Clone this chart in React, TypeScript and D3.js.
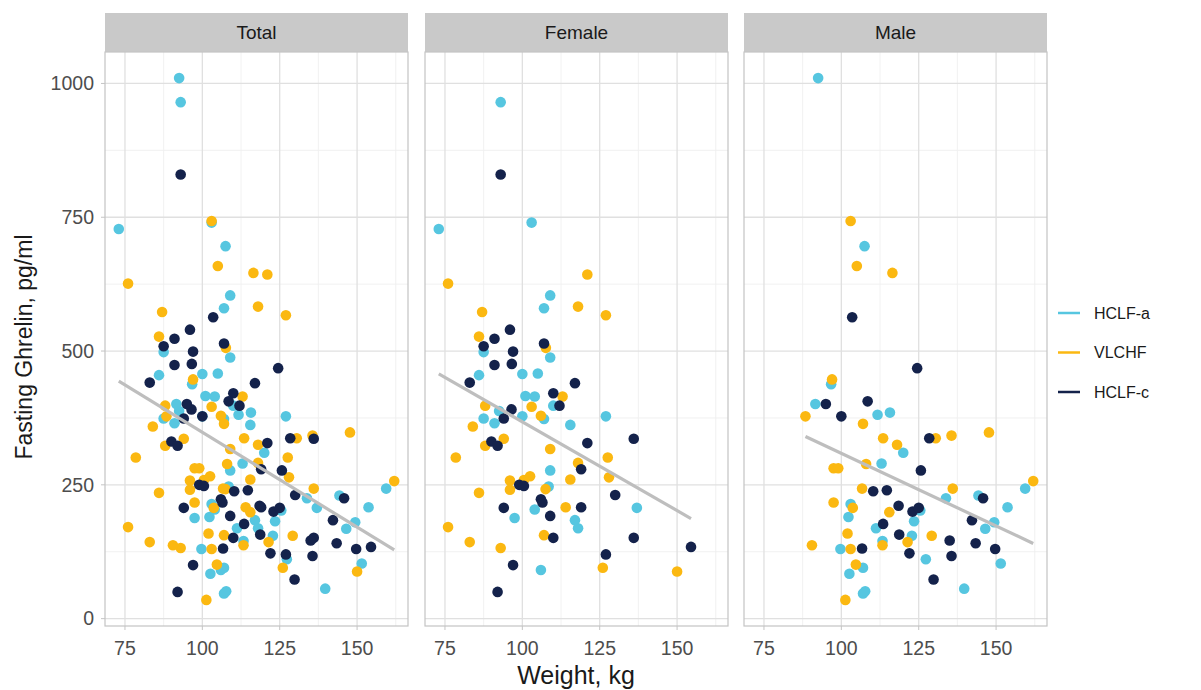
import React from 'react';
import * as d3 from 'd3';

type Pt = [number, number];

const groups = ['HCLF-a', 'VLCHF', 'HCLF-c'];
const groupColors = ['#56C6E0', '#FBB811', '#14224B'];
const facets = ['Total', 'Female', 'Male'];
const xTicks = [75, 100, 125, 150];
const xMinor = [87.5, 112.5, 137.5, 162.5];
const yTicks = [0, 250, 500, 750, 1000];
const yMinor = [125, 375, 625, 875];

// [weight kg, fasting ghrelin pg/ml]
const femaleHCLFa: Pt[] = [
  [93, 965], [73, 728], [103, 740], [109, 604], [107, 580], [87.5, 498], [109, 488], [100, 457],
  [105, 458], [86, 455], [101, 416], [104, 415], [110, 398], [92.5, 388], [87.5, 374], [100, 378],
  [91, 365], [107, 373], [127, 378], [115.5, 362], [109, 277], [108.5, 247], [104, 204], [137, 207],
  [97.5, 188], [117, 184], [118, 169], [106, 91],
];
const femaleVLCHF: Pt[] = [
  [76, 626], [121, 643], [118, 583], [127, 567], [87, 573], [86, 527], [107.6, 506], [113, 415],
  [88, 398], [103, 396], [106, 379], [84, 359], [94, 336], [88, 323], [78.5, 301], [109, 317],
  [127.6, 301], [118, 291], [128, 264], [102.5, 266], [100.5, 259], [96, 258], [96, 241], [115.5, 260],
  [107.5, 242], [86, 235], [114, 208], [76, 171], [107, 156], [83, 143], [93, 132], [126, 95], [150, 88],
];
const femaleHCLFc: Pt[] = [
  [93, 830], [96, 540], [91, 523], [87.5, 509], [97, 499], [107, 514], [91, 474], [96.6, 476],
  [83, 441], [117, 440], [110, 421], [112, 398], [96.5, 391], [94, 374], [121, 328], [136, 336],
  [90, 331], [92, 323], [119, 279], [99, 250], [100.5, 248], [130, 231], [106, 223], [106.5, 217],
  [119, 208], [94, 207], [109, 192], [110, 151], [136, 151], [154.5, 134], [127, 120], [97, 100], [92, 50],
];
const maleHCLFa: Pt[] = [
  [92.5, 1010], [107.5, 696], [96.7, 438], [91.6, 401], [111.7, 381], [115.7, 385], [120, 310],
  [113, 290], [159.4, 243], [133.8, 225], [144.3, 230], [103, 214], [125.5, 202], [153.7, 208],
  [102.3, 190], [123.5, 182], [149.4, 180], [111.2, 169], [146.5, 168], [122.8, 155], [113.3, 145],
  [99.7, 130], [127.3, 111], [151.5, 103], [107, 95], [102.6, 84], [139.7, 56], [107, 47], [107.7, 51],
];
const maleVLCHF: Pt[] = [
  [103, 743], [105, 659], [116.5, 646], [97, 447], [88.4, 378], [107, 364], [113.5, 337], [118, 325],
  [130.5, 337], [135.6, 342], [147.7, 348], [108, 289], [97.5, 281], [99, 281], [162, 257],
  [106.7, 243], [136, 243], [97.5, 217], [103.7, 207], [115.5, 199], [102, 159], [129.2, 155],
  [113.3, 137], [121.4, 143], [90.5, 137], [103, 130], [104.7, 101], [101.3, 35],
];
const maleHCLFc: Pt[] = [
  [103.5, 563], [124.5, 468], [95, 401], [108.5, 406], [100, 378], [128.4, 337], [125.7, 277],
  [110.3, 238], [114.7, 240], [145.8, 225], [118.5, 211], [123, 200], [125, 207], [113.5, 177],
  [142.2, 184], [118.7, 157], [135, 146], [143.4, 141], [106.7, 131], [122, 122], [149.7, 130],
  [135.6, 117], [129.8, 73],
];

const female = [femaleHCLFa, femaleVLCHF, femaleHCLFc];
const male = [maleHCLFa, maleVLCHF, maleHCLFc];
const total = [0, 1, 2].map((i) => [...female[i], ...male[i]]);
const facetData = [total, female, male];

const FONT = '"Liberation Sans", Arial, Helvetica, sans-serif';

const panelLefts = [105, 425, 744];
const panelW = 303;
const panelTop = 52;
const panelBottom = 626;
const stripTop = 13;

function fit(pts: Pt[]) {
  const mx = d3.mean(pts, (d) => d[0]) as number;
  const my = d3.mean(pts, (d) => d[1]) as number;
  let sxy = 0;
  let sxx = 0;
  pts.forEach(([x, y]) => {
    sxy += (x - mx) * (y - my);
    sxx += (x - mx) * (x - mx);
  });
  const b = sxy / sxx;
  const a = my - b * mx;
  const [x0, x1] = d3.extent(pts, (d) => d[0]) as [number, number];
  return { x0, x1, y0: a + b * x0, y1: a + b * x1 };
}

export default function App() {
  const all = facetData[0].flat();
  const [xmin, xmax] = d3.extent(all, (d) => d[0]) as [number, number];
  const [ymin, ymax] = d3.extent(all, (d) => d[1]) as [number, number];
  const xe = (xmax - xmin) * 0.05;
  const ye = (ymax - ymin) * 0.05;
  const y = d3.scaleLinear().domain([ymin - ye, ymax + ye]).range([panelBottom, panelTop]);

  return (
    <svg
      width={1201}
      height={690}
      style={{ position: 'absolute', left: 0, top: 0, background: '#fff' }}
      fontFamily={FONT}
    >
      <rect width={1201} height={690} fill="#fff" />
      {facets.map((name, fi) => {
        const left = panelLefts[fi];
        const x = d3.scaleLinear().domain([xmin - xe, xmax + xe]).range([left, left + panelW]);
        const sets = facetData[fi];
        const line = fit(sets.flat());
        return (
          <g key={name}>
            <rect x={left} y={stripTop} width={panelW} height={panelTop - stripTop} fill="#C9C9C9" />
            <text
              x={left + panelW / 2}
              y={(stripTop + panelTop) / 2}
              dy="0.35em"
              textAnchor="middle"
              fontSize={19}
              fill="#1A1A1A"
            >
              {name}
            </text>
            <rect x={left} y={panelTop} width={panelW} height={panelBottom - panelTop} fill="#fff" />
            {yMinor.map((t) => (
              <line key={'ym' + t} x1={left} x2={left + panelW} y1={y(t)} y2={y(t)} stroke="#EFEFEF" strokeWidth={0.9} />
            ))}
            {xMinor.map((t) => (
              <line key={'xm' + t} x1={x(t)} x2={x(t)} y1={panelTop} y2={panelBottom} stroke="#EFEFEF" strokeWidth={0.9} />
            ))}
            {yTicks.map((t) => (
              <line key={'yM' + t} x1={left} x2={left + panelW} y1={y(t)} y2={y(t)} stroke="#E0E0E0" strokeWidth={1.3} />
            ))}
            {xTicks.map((t) => (
              <line key={'xM' + t} x1={x(t)} x2={x(t)} y1={panelTop} y2={panelBottom} stroke="#E0E0E0" strokeWidth={1.3} />
            ))}
            {sets.map((pts, gi) =>
              pts.map((d, i) => (
                <circle key={gi + '-' + i} cx={x(d[0])} cy={y(d[1])} r={5.3} fill={groupColors[gi]} />
              ))
            )}
            <line
              x1={x(line.x0)}
              y1={y(line.y0)}
              x2={x(line.x1)}
              y2={y(line.y1)}
              stroke="#BEBEBE"
              strokeWidth={3.2}
            />
            <rect
              x={left}
              y={panelTop}
              width={panelW}
              height={panelBottom - panelTop}
              fill="none"
              stroke="#C4C4C4"
              strokeWidth={1.2}
            />
            {xTicks.map((t) => (
              <g key={'xt' + t}>
                <line x1={x(t)} x2={x(t)} y1={panelBottom} y2={panelBottom + 4} stroke="#C4C4C4" />
                <text x={x(t)} y={panelBottom + 22} dy="0.35em" textAnchor="middle" fontSize={19.5} fill="#4D4D4D">
                  {t}
                </text>
              </g>
            ))}
            {fi === 0 &&
              yTicks.map((t) => (
                <g key={'yt' + t}>
                  <line x1={left - 4} x2={left} y1={y(t)} y2={y(t)} stroke="#C4C4C4" />
                  <text x={left - 11} y={y(t)} dy="0.35em" textAnchor="end" fontSize={19.5} fill="#4D4D4D">
                    {t}
                  </text>
                </g>
              ))}
          </g>
        );
      })}
      <text x={576} y={675} textAnchor="middle" dy="0.35em" fontSize={25} fill="#1A1A1A">
        Weight, kg
      </text>
      <text
        transform={`translate(24, ${(panelTop + panelBottom) / 2 + 8}) rotate(-90)`}
        textAnchor="middle"
        dy="0.35em"
        fontSize={23}
        fill="#1A1A1A"
      >
        Fasting Ghrelin, pg/ml
      </text>
      {groups.map((g, i) => (
        <g key={g} transform={`translate(0, ${313 + i * 39.5})`}>
          <line x1={1058} x2={1080} y1={0} y2={0} stroke={groupColors[i]} strokeWidth={2.5} />
          <text x={1094} y={0} dy="0.35em" fontSize={16} fill="#1A1A1A">
            {g}
          </text>
        </g>
      ))}
    </svg>
  );
}
